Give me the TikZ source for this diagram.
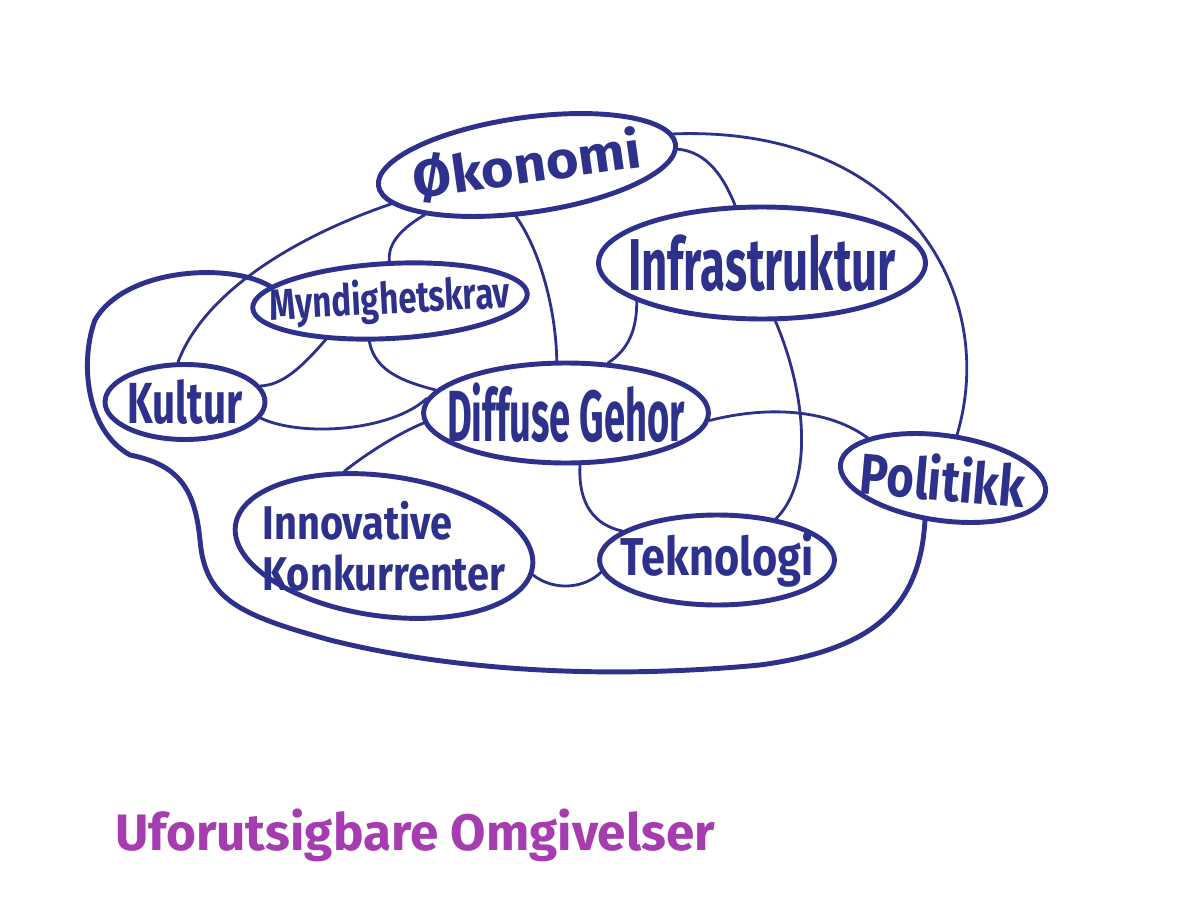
\documentclass[tikz,border=0pt]{standalone}
\usepackage{fontspec}
\setmainfont{Fira Sans}
\usepackage{graphicx}
\usetikzlibrary{shapes.geometric}
\definecolor{ink}{RGB}{46,49,140}
\definecolor{plum}{RGB}{165,60,176}
\newsavebox\lblbox
\newcommand{\lbl}[3]{\sbox\lblbox{\resizebox*{#1}{#2}{#3}}\smash{\makebox[0pt]{\raisebox{\dimexpr(\dp\lblbox-\ht\lblbox)/2\relax}{\usebox\lblbox}}}}
\tikzset{
  bub/.style={ellipse, draw=ink, line width=2.8pt, inner sep=0pt, text=ink, font=\bfseries},
  link/.style={draw=ink, line width=1.6pt, line cap=round},
  loop/.style={draw=ink, line width=2.8pt, line cap=round, line join=round},
}
\begin{document}
\begin{tikzpicture}[x=0.02cm,y=-0.02cm]
\fill[white] (0,0) rectangle (1200,899);
\useasboundingbox (0,0) rectangle (1200,899);

\node[bub, rotate=8, minimum width=6.0cm, minimum height=1.9cm] (oko) at (527,165) {\lbl{4.6cm}{1.0cm}{Økonomi}};
\node[bub, minimum width=6.54cm, minimum height=2.24cm] (inf) at (762,263) {\lbl{5.36cm}{1.14cm}{Infrastruktur}};
\node[bub, rotate=3, minimum width=5.5cm, minimum height=1.5cm] (myn) at (390,301) {\lbl{4.8cm}{0.9cm}{Myndighetskrav}};
\node[bub, minimum width=3.2cm, minimum height=1.5cm] (kul) at (185,402) {\lbl{2.3cm}{0.9cm}{Kultur}};
\node[bub, minimum width=5.7cm, minimum height=2.0cm] (dif) at (566,413) {\lbl{4.76cm}{1.2cm}{Diffuse Gehor}};
\node[bub, rotate=-8, minimum width=4.14cm, minimum height=1.7cm] (pol) at (943,478) {\rotatebox{3}{\lbl{3.3cm}{0.95cm}{Politikk}}};
\node[bub, minimum width=4.7cm, minimum height=1.8cm] (tek) at (717,560) {\lbl{3.86cm}{1.1cm}{Teknologi}};
\node[bub, rotate=-8, minimum width=6.0cm, minimum height=2.8cm] (inn) at (384,546) {\rotatebox{8}{\lbl{4.86cm}{1.8cm}{\shortstack[l]{Innovative\\Konkurrenter}}}};

\node[text=plum, font=\bfseries, inner sep=0pt] (title) at (415,835) {\resizebox{12cm}{!}{Uforutsigbare Omgivelser}};

% connectors
\draw[link] (oko.4) .. controls (900,125) and (1000,290) .. (pol.80);
\draw[link] (oko.-2) .. controls (708,152) and (724,178) .. (inf.115);
\draw[link] (oko.188) .. controls (300,235) and (205,290) .. (kul.100);
\draw[link] (oko.198) .. controls (395,232) and (388,248) .. (myn.88);
\draw[link] (oko.250) .. controls (540,250) and (556,310) .. (dif.100);
\draw[link] (inf.197) .. controls (637,330) and (628,350) .. (dif.50);
\draw[link] (inf.283) .. controls (805,390) and (815,480) .. (tek.35);
\draw[link] (dif.-3) .. controls (770,405) and (830,410) .. (pol.160);
\draw[link] (dif.285) .. controls (578,505) and (595,525) .. (tek.163);
\draw[link] (inn.-3) .. controls (555,592) and (585,588) .. (tek.186);
\draw[link] (dif.184) .. controls (395,435) and (365,455) .. (inn.126);
\draw[link] (kul.-12) .. controls (300,437) and (390,432) .. (dif.174);
\draw[link] (myn.240) .. controls (375,372) and (405,382) .. (dif.170);
\draw[link] (myn.208) .. controls (298,372) and (280,385) .. (kul.12);

\coordinate (l1) at (95,320);
\coordinate (l2) at (130,455);
\coordinate (l3) at (200,540);
\coordinate (l4) at (330,640);
\coordinate (l5) at (760,665);
\draw[loop] (myn.170) .. controls (230,262) and (125,268) .. (l1)
  .. controls (80,360) and (85,430) .. (l2)
  .. controls (180,465) and (195,490) .. (l3)
  .. controls (205,600) and (240,615) .. (l4)
  .. controls (450,670) and (600,680) .. (l5)
  .. controls (870,650) and (920,610) .. (pol.255);
\end{tikzpicture}
\end{document}
